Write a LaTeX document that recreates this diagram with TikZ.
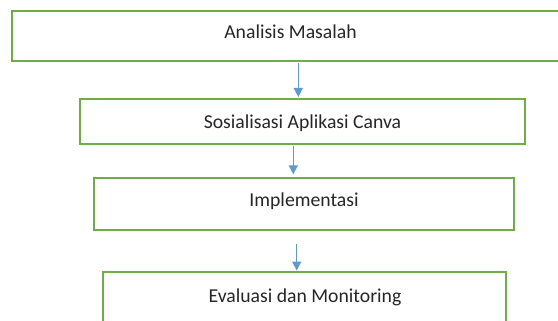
\documentclass[tikz,border=0pt]{standalone}
\usepackage{fontspec}
\setmainfont{Carlito}
\usetikzlibrary{arrows.meta}
\definecolor{boxgreen}{RGB}{112,173,71}
\definecolor{arrblue}{RGB}{91,155,213}
\definecolor{txtgray}{RGB}{38,38,38}
\begin{document}
\begin{tikzpicture}[x=1pt,y=-1pt,
  box/.style={draw=boxgreen, line width=2pt, fill=white, inner sep=0pt},
  lbl/.style={anchor=base, inner sep=0pt, text=txtgray, font=\fontsize{19.7}{24}\selectfont},
  arr/.style={draw=arrblue, line width=1.5pt, -{Triangle[width=9pt,length=9pt]}}]
\useasboundingbox (0,0) rectangle (558,321);
\clip (0,0) rectangle (558,321);
\fill[white] (0,0) rectangle (558,321);
% boxes
\node[box, minimum width=556pt, minimum height=50.3pt] (b1) at (290.3,35.9) {};
\node[box, minimum width=445pt, minimum height=45pt] (b2) at (302.5,121.5) {};
\node[box, minimum width=420pt, minimum height=52pt] (b3) at (304,204) {};
\node[box, minimum width=403pt, minimum height=52pt] (b4) at (304.5,298) {};
% texts
\node[lbl] (t1) at (290.5,39) {Analisis Masalah};
\node[lbl] (t2) at (302.5,128.3) {Sosialisasi Aplikasi Canva};
\node[lbl] (t3) at (304,206.7) {Implementasi};
\node[lbl] (t4) at (305,302.7) {Evaluasi dan Monitoring};
% arrow x positions
\coordinate (x1) at (298.3,0);
\coordinate (x2) at (293.3,0);
\coordinate (x3) at (296.7,0);
% arrows
\draw[arr, shorten <=1pt, shorten >=1pt] (b1.south -| x1) -- (b2.north -| x1);
\draw[arr, shorten <=1pt, shorten >=2.7pt] (b2.south -| x2) -- (b3.north -| x2);
\draw[arr, shorten <=13pt, shorten >=0.5pt] (b3.south -| x3) -- (b4.north -| x3);
\end{tikzpicture}
\end{document}
